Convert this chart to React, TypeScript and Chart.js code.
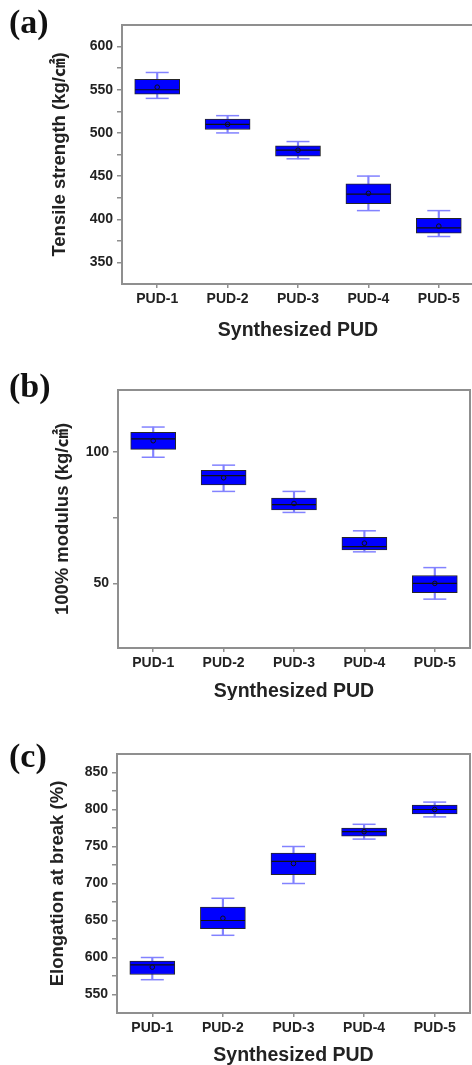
import React, { useEffect, useRef } from "react";
import { Chart, registerables } from "chart.js";

Chart.register(...registerables);

// ---------- data ----------
const CATEGORIES = ["PUD-1", "PUD-2", "PUD-3", "PUD-4", "PUD-5"];

// (a) Tensile strength (kg/㎠)
const TS_MIN = [540, 500, 470, 410, 380];
const TS_Q1 = [545, 504, 473, 418, 384];
const TS_MEDIAN = [550, 510, 480, 429, 390];
const TS_Q3 = [562, 516, 485, 441, 401];
const TS_MAX = [570, 520, 490, 450, 410];
const TS_MEAN = [553, 510, 480, 430, 392];
const TS_TICKS = [350, 375, 400, 425, 450, 475, 500, 525, 550, 575, 600];

// (b) 100% modulus (kg/㎠)
const MOD_MIN = [98, 85, 77, 62, 44];
const MOD_Q1 = [101, 87.5, 78, 62.7, 46.5];
const MOD_MEDIAN = [105, 91, 80, 64, 50];
const MOD_Q3 = [107.5, 93, 82.5, 67.5, 53];
const MOD_MAX = [109.5, 95, 85, 70, 56];
const MOD_MEAN = [104.3, 90.2, 80.4, 65.3, 50];
const MOD_TICKS = [50, 75, 100];

// (c) Elongation at break (%)
const EL_MIN = [570, 630, 700, 760, 790];
const EL_Q1 = [577, 639, 712, 764, 794];
const EL_MEDIAN = [590, 650, 730, 770, 800];
const EL_Q3 = [595, 668, 741, 775, 806];
const EL_MAX = [600, 680, 750, 780, 810];
const EL_MEAN = [587, 653, 727, 770, 800];
const EL_TICKS = [550, 575, 600, 625, 650, 675, 700, 725, 750, 775, 800, 825, 850];

const X_TITLE = "Synthesized PUD";

// ---------- styles ----------
const FONT = "'Liberation Sans', Arial, 'Noto Sans CJK KR', sans-serif";
const AXIS = "#8f8f8f";
const TEXT = "#222222";
const BOX_FILL = "#0000ff";
const BOX_EDGE = "#262626";
const WHISKER = "#8282ff";

const framePlugin = {
  id: "frame",
  afterDraw(chart: any) {
    const { ctx, chartArea } = chart;
    ctx.save();
    ctx.strokeStyle = AXIS;
    ctx.lineWidth = 2;
    ctx.strokeRect(chartArea.left, chartArea.top, chartArea.right - chartArea.left, chartArea.bottom - chartArea.top);
    ctx.restore();
  },
};

type PanelProps = {
  min: number[]; q1: number[]; median: number[]; q3: number[]; max: number[]; mean: number[];
  ticks: number[]; yMin: number; yMax: number; yTitle: string;
  width: number; height: number; top: number; padTop: number; padRight: number;
  yWidth: number; xHeight: number; yTitlePad: number; xTitlePad: number;
};

function Panel(p: PanelProps) {
  const ref = useRef<HTMLCanvasElement | null>(null);
  useEffect(() => {
    if (!ref.current) return;
    const boxes = p.q1.map((v, i) => [v, p.q3[i]]);
    const whiskers = p.min.map((v, i) => [v, p.max[i]]);
    const chart = new Chart(ref.current, {
      type: "bar",
      data: {
        labels: CATEGORIES,
        datasets: [
          {
            type: "line", data: p.mean, showLine: false, order: 1,
            pointStyle: "circle", pointRadius: 2.3, pointBorderWidth: 1,
            pointBorderColor: "#111", pointBackgroundColor: "rgba(0,0,0,0)",
          },
          {
            type: "line", data: p.median, showLine: false, order: 2,
            pointStyle: "line", pointRadius: 22, pointBorderWidth: 1.2,
            pointBorderColor: "#111", pointBackgroundColor: "#111",
          },
          {
            type: "bar", data: boxes, order: 3, grouped: false, barThickness: 45,
            backgroundColor: BOX_FILL, borderColor: BOX_EDGE, borderWidth: 1, borderSkipped: false,
          },
          {
            type: "line", data: p.max, showLine: false, order: 4,
            pointStyle: "line", pointRadius: 11.5, pointBorderWidth: 1.5,
            pointBorderColor: WHISKER, pointBackgroundColor: WHISKER,
          },
          {
            type: "line", data: p.min, showLine: false, order: 4,
            pointStyle: "line", pointRadius: 11.5, pointBorderWidth: 1.5,
            pointBorderColor: WHISKER, pointBackgroundColor: WHISKER,
          },
          {
            type: "bar", data: whiskers, order: 5, grouped: false, barThickness: 1.5,
            backgroundColor: WHISKER, borderWidth: 0,
          },
        ] as any,
      },
      options: {
        responsive: false,
        animation: false,
        layout: { autoPadding: false, padding: { top: p.padTop, right: p.padRight, left: 0, bottom: 0 } },
        plugins: { legend: { display: false }, tooltip: { enabled: false } },
        scales: {
          x: {
            offset: true,
            grid: { display: true, offset: false, drawOnChartArea: false, drawTicks: true, tickLength: 4, color: AXIS, lineWidth: 1.5 },
            border: { display: true, color: AXIS, width: 2 },
            ticks: { font: { family: FONT, size: 14, weight: "bold" }, color: TEXT, padding: 2.5, maxRotation: 0 },
            title: {
              display: true, text: X_TITLE, color: TEXT,
              font: { family: FONT, size: 19.5, weight: "bold", lineHeight: 1 },
              padding: { top: 0, bottom: p.xTitlePad },
            },
            afterFit: (s: any) => { s.height = p.xHeight; s.paddingLeft = 0; s.paddingRight = 0; },
          },
          y: {
            min: p.yMin, max: p.yMax,
            afterBuildTicks: (s: any) => { s.ticks = p.ticks.map((v) => ({ value: v })); },
            grid: { display: true, drawOnChartArea: false, drawTicks: true, tickLength: 5, color: AXIS, lineWidth: 1.5 },
            border: { display: true, color: AXIS, width: 2 },
            ticks: {
              font: { family: FONT, size: 14, weight: "bold" }, color: TEXT, padding: 4,
              callback: (v: any) => (Number(v) % 50 === 0 ? String(v) : ""),
            },
            title: {
              display: true, text: p.yTitle, color: TEXT,
              font: { family: FONT, size: 18.5, weight: "bold", lineHeight: 1 },
              padding: { top: p.yTitlePad, bottom: 0 },
            },
            afterFit: (s: any) => { s.width = p.yWidth; s.paddingTop = 0; s.paddingBottom = 0; },
          },
        },
      } as any,
      plugins: [framePlugin],
    });
    return () => chart.destroy();
  }, []);
  return (
    <canvas
      ref={ref}
      width={p.width}
      height={p.height}
      style={{ position: "absolute", left: 0, top: p.top, width: p.width, height: p.height, display: "block" }}
    />
  );
}

const labelStyle = (top: number): React.CSSProperties => ({
  position: "absolute", left: 9, top, fontFamily: "'Liberation Serif', 'Times New Roman', serif",
  fontWeight: "bold", fontSize: 34, lineHeight: "34px", color: "#111",
});

export default function App() {
  return (
    <div style={{ position: "absolute", left: 0, top: 0, width: 472, height: 1065, overflow: "hidden", background: "#fff" }}>
      <Panel
        min={TS_MIN} q1={TS_Q1} median={TS_MEDIAN} q3={TS_Q3} max={TS_MAX} mean={TS_MEAN}
        ticks={TS_TICKS} yMin={325} yMax={625} yTitle="Tensile strength (kg/㎠)"
        width={476} height={345} top={0} padTop={25} padRight={2}
        yWidth={122} xHeight={61} yTitlePad={51} xTitlePad={4.5}
      />
      <Panel
        min={MOD_MIN} q1={MOD_Q1} median={MOD_MEDIAN} q3={MOD_Q3} max={MOD_MAX} mean={MOD_MEAN}
        ticks={MOD_TICKS} yMin={25.4} yMax={123.6} yTitle="100% modulus (kg/㎠)"
        width={472} height={355} top={345} padTop={45} padRight={2}
        yWidth={118} xHeight={52} yTitlePad={53.5} xTitlePad={-1.25}
      />
      <Panel
        min={EL_MIN} q1={EL_Q1} median={EL_MEDIAN} q3={EL_Q3} max={EL_MAX} mean={EL_MEAN}
        ticks={EL_TICKS} yMin={525} yMax={875} yTitle="Elongation at break (%)"
        width={472} height={365} top={700} padTop={54} padRight={2}
        yWidth={117} xHeight={52} yTitlePad={48.5} xTitlePad={-0.25}
      />
      <div style={labelStyle(5)}>(a)</div>
      <div style={labelStyle(369)}>(b)</div>
      <div style={labelStyle(739)}>(c)</div>
    </div>
  );
}
